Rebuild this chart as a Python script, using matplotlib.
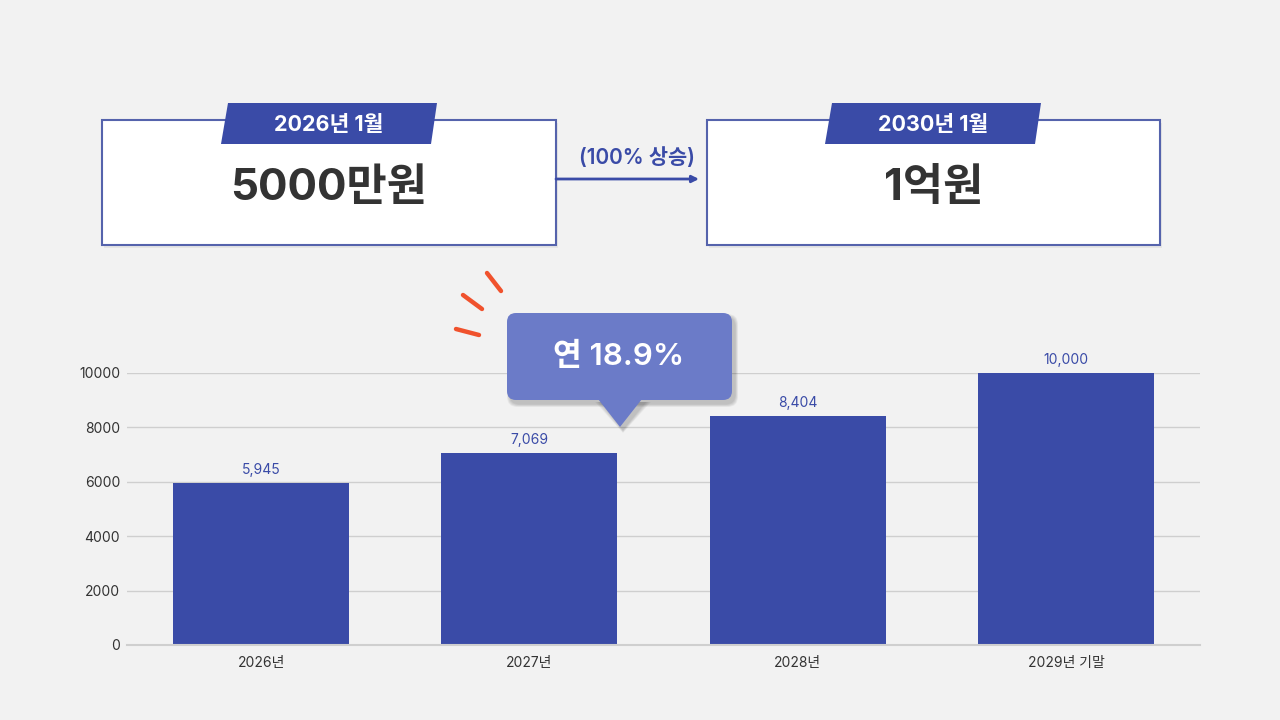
import matplotlib
matplotlib.use('Agg')
import matplotlib.pyplot as plt
from matplotlib.patches import Polygon, Rectangle, FancyBboxPatch

plt.rcParams['font.family'] = ['Inter', 'Noto Sans CJK KR', 'DejaVu Sans']

# data
categories = ['2026년', '2027년', '2028년', '2029년 기말']
values = [5945, 7069, 8404, 10000]
value_labels = ['5,945', '7,069', '8,404', '10,000']
yticks = [0, 2000, 4000, 6000, 8000, 10000]

start_tag = '2026년 1월'
start_amount = '5000만원'
end_tag = '2030년 1월'
end_amount = '1억원'
rise_text = '(100% 상승)'
callout_text = '연 18.9%'

BG = '#f2f2f2'
BLUE = '#3a4ba7'
LIGHT_BLUE = '#6b7bc8'
DARK = '#333333'
RED = '#f0522d'

W, H = 1280, 720
fig = plt.figure(figsize=(12.8, 7.2), dpi=100)
fig.patch.set_facecolor(BG)

# bar chart
ax = fig.add_axes([127 / W, 75 / H, (1200 - 127) / W, 272 / H])
ax.set_facecolor(BG)
x = range(len(categories))
ax.bar(x, values, width=0.657, color=BLUE, zorder=3)
for xi, v, lab in zip(x, values, value_labels):
    ax.text(xi, v + 220, lab, ha='center', va='bottom', fontsize=10, color=BLUE, zorder=4)
ax.set_xlim(-0.5, 3.5)
ax.set_ylim(0, 10000)
ax.set_yticks(yticks)
ax.set_yticklabels([str(t) for t in yticks], fontsize=10, color=DARK)
ax.set_xticks(list(x))
ax.set_xticklabels(categories, fontsize=10, color=DARK)
ax.tick_params(axis='y', length=0, pad=5)
ax.tick_params(axis='x', length=0, pad=8)
ax.grid(axis='y', color='#cfcfcf', linewidth=1, zorder=0)
ax.axhline(0, color='#cfcfcf', linewidth=1.5, zorder=4, clip_on=False)
for s in ax.spines.values():
    s.set_visible(False)

# overlay in pixel coords
ov = fig.add_axes([0, 0, 1, 1])
ov.set_xlim(0, W)
ov.set_ylim(H, 0)
ov.axis('off')
ov.patch.set_alpha(0)


def card(x0, y0, x1, y1, tag, amount, tag_x):
    ov.add_patch(Rectangle((x0 + 2, y0 + 3), x1 - x0, y1 - y0, facecolor='#000000',
                           alpha=0.05, edgecolor='none'))
    ov.add_patch(Rectangle((x0, y0), x1 - x0, y1 - y0, facecolor='white',
                           edgecolor='#5563ac', linewidth=1.5))
    tl = tag_x
    ov.add_patch(Polygon([(tl, 103), (tl + 209, 103), (tl + 203, 144), (tl - 7, 144)],
                         closed=True, facecolor=BLUE, edgecolor='none'))
    ov.text(tl + 101, 125, tag, ha='center', va='center', fontsize=15.5,
            fontweight='bold', color='white')
    ov.text((x0 + x1) / 2, 188, amount, ha='center', va='center', fontsize=31.5,
            fontweight='bold', color=DARK)


card(102, 120, 556, 245, start_tag, start_amount, 228)
card(707, 120, 1160, 245, end_tag, end_amount, 832)

# arrow between cards
ov.annotate('', xy=(699, 179), xytext=(556, 179),
            arrowprops=dict(arrowstyle='-|>', color=BLUE, lw=2, mutation_scale=10,
                            shrinkA=0, shrinkB=0))
ov.text(637, 158, rise_text, ha='center', va='center', fontsize=15,
        fontweight='semibold', color=BLUE)

# callout bubble: soft shadow layers, then body
for k in range(6):
    grow = 6 - k
    ov.add_patch(FancyBboxPatch((510 - grow / 2, 317 - grow / 2), 225 + grow, 87 + grow,
                                boxstyle='round,pad=0,rounding_size=10',
                                facecolor='#000000', edgecolor='none', alpha=0.035, zorder=5))
    ov.add_patch(Polygon([(601 - grow, 402), (645 + grow, 402), (623, 430 + grow / 2)],
                         closed=True, facecolor='#000000', edgecolor='none',
                         alpha=0.035, zorder=5))
ov.add_patch(FancyBboxPatch((507, 313), 225, 87, boxstyle='round,pad=0,rounding_size=9',
                            facecolor=LIGHT_BLUE, edgecolor='none', zorder=6))
ov.add_patch(Polygon([(598, 399), (642, 399), (620, 427)], closed=True,
                     facecolor=LIGHT_BLUE, edgecolor='none', zorder=6))
ov.text(619, 356, callout_text, ha='center', va='center', fontsize=22.5,
        fontweight='semibold', color='white', zorder=7)

# red accent strokes
for (xa, ya), (xb, yb) in [((487, 273), (501, 291)),
                           ((463, 295), (482, 309)),
                           ((456, 329), (479, 335))]:
    ov.plot([xa, xb], [ya, yb], color=RED, linewidth=3.2, solid_capstyle='round')

fig.savefig('out.png', dpi=100, facecolor=BG)
